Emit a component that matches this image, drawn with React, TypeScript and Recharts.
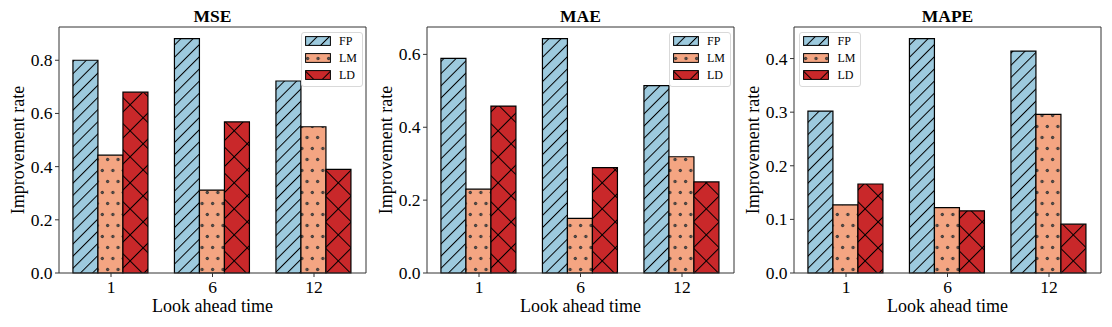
import { BarChart, Bar, XAxis, YAxis, Legend } from "recharts";

const FONT = '"Liberation Serif", "Times New Roman", serif';

const CATEGORIES = ["1", "6", "12"];
const SERIES = ["FP", "LM", "LD"];

const MSE_FP = [0.8, 0.881, 0.722];
const MSE_LM = [0.443, 0.312, 0.55];
const MSE_LD = [0.68, 0.568, 0.39];

const MAE_FP = [0.589, 0.643, 0.514];
const MAE_LM = [0.23, 0.15, 0.319];
const MAE_LD = [0.458, 0.289, 0.25];

const MAPE_FP = [0.302, 0.437, 0.414];
const MAPE_LM = [0.127, 0.122, 0.296];
const MAPE_LD = [0.166, 0.116, 0.091];

const MSE_TICKS = [0, 0.2, 0.4, 0.6, 0.8];
const MAE_TICKS = [0, 0.2, 0.4, 0.6];
const MAPE_TICKS = [0, 0.1, 0.2, 0.3, 0.4];

const COLORS: Record<string, string> = {
  FP: "#9dcade",
  LM: "#f4a582",
  LD: "#c9282a",
};

const SPINE = "#333";

function Patterns({ idx }: { idx: number }) {
  return (
    <defs>
      <pattern
        id={`FP-${idx}`}
        patternUnits="userSpaceOnUse"
        width={8.6}
        height={8.6}
        patternTransform="rotate(45)"
      >
        <rect width={8.6} height={8.6} fill={COLORS.FP} />
        <rect x={0} y={0} width={1} height={8.6} fill="#000" />
      </pattern>
      <pattern
        id={`LM-${idx}`}
        patternUnits="userSpaceOnUse"
        width={10.5}
        height={22}
      >
        <rect width={10.5} height={22} fill={COLORS.LM} />
        <circle cx={2.6} cy={5.5} r={1.2} fill="#555" stroke="#222" strokeWidth={0.9} />
        <circle cx={7.85} cy={16.5} r={1.2} fill="#555" stroke="#222" strokeWidth={0.9} />
      </pattern>
      <pattern
        id={`LD-${idx}`}
        patternUnits="userSpaceOnUse"
        width={18.4}
        height={18.4}
        patternTransform="rotate(45)"
      >
        <rect width={18.4} height={18.4} fill={COLORS.LD} />
        <rect x={0} y={0} width={1} height={18.4} fill="#000" />
        <rect x={0} y={0} width={18.4} height={1} fill="#000" />
      </pattern>
    </defs>
  );
}

function LegendBox({ idx }: { idx: number }) {
  const centers = [9.4, 26, 42.7];
  return (
    <div
      style={{
        position: "relative",
        width: 62,
        height: 55,
        boxSizing: "border-box",
        border: "1px solid #d9d9d9",
        borderRadius: 3,
        background: "#fff",
        fontFamily: FONT,
        fontSize: 12,
        color: "#000",
      }}
    >
      {SERIES.map((s, i) => (
        <div key={s}>
          <svg
            width={26}
            height={10}
            style={{ position: "absolute", left: 3, top: centers[i] - 6 }}
          >
            <rect
              x={0.6}
              y={0.6}
              width={24.8}
              height={8.8}
              fill={`url(#${s}-${idx})`}
              stroke="#000"
              strokeWidth={1}
            />
          </svg>
          <div
            style={{
              position: "absolute",
              left: 37.5,
              top: centers[i] - 8,
              lineHeight: "14px",
              whiteSpace: "nowrap",
            }}
          >
            {s}
          </div>
        </div>
      ))}
    </div>
  );
}

const XTick = (p: any) => (
  <text
    x={p.x}
    y={p.y}
    dy="0.71em"
    textAnchor="middle"
    fontFamily={FONT}
    fontSize={17.5}
    fill="#000"
  >
    {p.payload.value}
  </text>
);

const YTick = (p: any) => (
  <text
    x={p.x}
    y={p.y}
    dy="0.34em"
    textAnchor="end"
    fontFamily={FONT}
    fontSize={17.5}
    fill="#000"
  >
    {Number(p.payload.value).toFixed(1)}
  </text>
);

interface PanelProps {
  idx: number;
  title: string;
  fp: number[];
  lm: number[];
  ld: number[];
  ticks: number[];
  legendLeft: number;
}

function Panel({ idx, title, fp, lm, ld, ticks, legendLeft }: PanelProps) {
  const data = CATEGORIES.map((c, i) => ({ t: c, FP: fp[i], LM: lm[i], LD: ld[i] }));
  return (
    <div style={{ position: "absolute", left: idx * 367.5, top: 0 }}>
      <BarChart
        width={368}
        height={327}
        data={data}
        margin={{ top: 26, right: 1, bottom: 0, left: 0 }}
        barCategoryGap="12.5%"
        barGap={0}
      >
        <Patterns idx={idx} />
        {SERIES.map((s) => (
          <Bar
            key={s}
            dataKey={s}
            fill={`url(#${s}-${idx})`}
            stroke="#000"
            strokeWidth={1.2}
            isAnimationActive={false}
          />
        ))}
        <XAxis
          dataKey="t"
          height={54}
          padding={{ left: 1.25, right: 1.25 }}
          tickSize={4}
          tickMargin={4}
          tick={XTick}
          tickLine={{ stroke: SPINE }}
          axisLine={{ stroke: SPINE, strokeWidth: 1 }}
          label={(props: any) => {
            const vb = props.viewBox;
            return (
              <text
                x={vb.x + vb.width / 2}
                y={312}
                textAnchor="middle"
                fontFamily={FONT}
                fontSize={18}
                fill="#000"
              >
                Look ahead time
              </text>
            );
          }}
        />
        <XAxis
          xAxisId="top"
          orientation="top"
          dataKey="t"
          height={1}
          tick={false}
          tickLine={false}
          axisLine={{ stroke: SPINE, strokeWidth: 1 }}
          label={(props: any) => {
            const vb = props.viewBox;
            return (
              <text
                x={vb.x + vb.width / 2}
                y={21.7}
                textAnchor="middle"
                fontFamily={FONT}
                fontWeight="bold"
                fontSize={17.5}
                fill="#000"
              >
                {title}
              </text>
            );
          }}
        />
        <YAxis
          type="number"
          width={59}
          domain={[0, (m: number) => m * 1.05]}
          ticks={ticks}
          tickFormatter={(v: number) => v.toFixed(1)}
          tickSize={4}
          tickMargin={2.5}
          tick={YTick}
          tickLine={{ stroke: SPINE }}
          axisLine={{ stroke: SPINE, strokeWidth: 1 }}
          label={(props: any) => {
            const vb = props.viewBox;
            const cy = vb.y + vb.height / 2;
            return (
              <text
                x={23.5}
                y={cy}
                transform={`rotate(-90 23.5 ${cy})`}
                textAnchor="middle"
                fontFamily={FONT}
                fontSize={18}
                fill="#000"
              >
                Improvement rate
              </text>
            );
          }}
        />
        <YAxis
          yAxisId="right"
          orientation="right"
          type="number"
          width={1}
          domain={[0, 1]}
          tick={false}
          tickLine={false}
          axisLine={{ stroke: SPINE, strokeWidth: 1 }}
        />
        <Legend
          layout="horizontal"
          align="center"
          verticalAlign="middle"
          wrapperStyle={{ left: legendLeft, top: 32, width: 62, height: 55 }}
          content={() => <LegendBox idx={idx} />}
        />
      </BarChart>
    </div>
  );
}

export default function App() {
  return (
    <div
      style={{
        position: "absolute",
        left: 0,
        top: 0,
        width: 1112,
        height: 327,
        background: "#fff",
        fontFamily: FONT,
      }}
    >
      <Panel idx={0} title="MSE" fp={MSE_FP} lm={MSE_LM} ld={MSE_LD} ticks={MSE_TICKS} legendLeft={300.5} />
      <Panel idx={1} title="MAE" fp={MAE_FP} lm={MAE_LM} ld={MAE_LD} ticks={MAE_TICKS} legendLeft={301} />
      <Panel idx={2} title="MAPE" fp={MAPE_FP} lm={MAPE_LM} ld={MAPE_LD} ticks={MAPE_TICKS} legendLeft={64} />
    </div>
  );
}
